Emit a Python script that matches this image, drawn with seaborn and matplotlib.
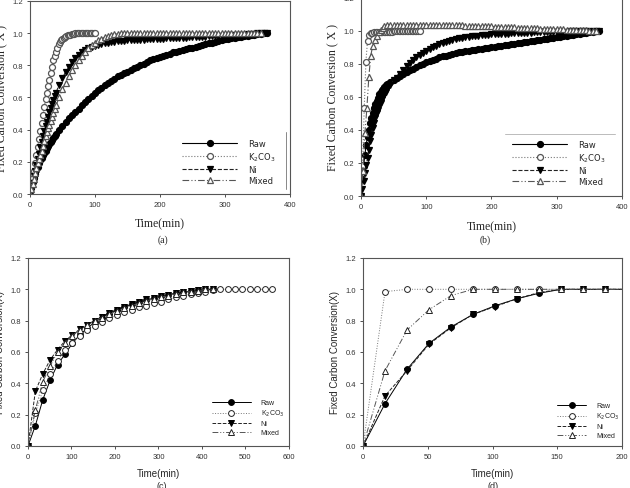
import numpy as np
import seaborn as sns
import matplotlib.pyplot as plt

sns.set_style("ticks")
plt.rcParams['font.family'] = ['Liberation Sans', 'DejaVu Sans']

labels = ["Raw", "K$_2$CO$_3$", "Ni", "Mixed"]

# ---------------- panel (a) ----------------
# sampling: every 2 min for the first 40 min, then every 5 min
a_t = np.concatenate([np.arange(0, 40, 2), np.arange(40, 366, 5)])
a_t_mix = np.concatenate([np.arange(0, 40, 2), np.arange(40, 356, 5)])
a_t_k = np.arange(0, 101, 2)

a_raw = [0.00, 0.04, 0.075, 0.10, 0.125, 0.15, 0.17, 0.19, 0.21, 0.225,
         0.24, 0.255, 0.27, 0.285, 0.30, 0.31, 0.32, 0.335, 0.345, 0.36,
         0.37, 0.40, 0.42, 0.45, 0.47, 0.49, 0.51, 0.53, 0.55, 0.57,
         0.59, 0.61, 0.63, 0.645, 0.66, 0.675, 0.69, 0.70, 0.715, 0.73,
         0.74, 0.75, 0.76, 0.77, 0.78, 0.79, 0.80, 0.81, 0.82, 0.83,
         0.84, 0.845, 0.85, 0.86, 0.865, 0.87, 0.88, 0.885, 0.89, 0.895,
         0.90, 0.905, 0.91, 0.915, 0.92, 0.925, 0.93, 0.935, 0.94, 0.945,
         0.95, 0.955, 0.96, 0.963, 0.966, 0.97, 0.973, 0.976, 0.98, 0.983,
         0.986, 0.99, 0.993, 0.996, 0.998, 1.00]
a_ni = [0.00, 0.035, 0.07, 0.11, 0.145, 0.18, 0.215, 0.25, 0.29, 0.325,
        0.36, 0.39, 0.42, 0.45, 0.48, 0.51, 0.535, 0.56, 0.585, 0.61,
        0.63, 0.68, 0.72, 0.76, 0.79, 0.82, 0.845, 0.865, 0.88, 0.895,
        0.905, 0.915, 0.92, 0.925, 0.93, 0.935, 0.94, 0.943, 0.946, 0.948,
        0.95, 0.952, 0.954, 0.955, 0.956, 0.957, 0.958, 0.959, 0.96, 0.961,
        0.962, 0.963, 0.964, 0.965, 0.966, 0.967, 0.968, 0.969, 0.97, 0.971,
        0.972, 0.973, 0.974, 0.975, 0.976, 0.977, 0.978, 0.979, 0.98, 0.981,
        0.982, 0.983, 0.984, 0.985, 0.986, 0.987, 0.988, 0.989, 0.99, 0.991,
        0.993, 0.995, 0.997, 0.998, 0.999, 1.00]
a_k2co3 = [0.00, 0.05, 0.10, 0.14, 0.19, 0.24, 0.29, 0.34, 0.39, 0.44,
           0.49, 0.54, 0.59, 0.63, 0.67, 0.71, 0.75, 0.79, 0.83, 0.86,
           0.885, 0.91, 0.93, 0.945, 0.955, 0.965, 0.97, 0.975, 0.98, 0.985,
           0.988, 0.99, 0.992, 0.994, 0.996, 0.997, 0.998, 0.999, 1.00, 1.00,
           1.00, 1.00, 1.00, 1.00, 1.00, 1.00, 1.00, 1.00, 1.00, 1.00,
           1.00]
a_mixed = [0.00, 0.03, 0.065, 0.095, 0.13, 0.16, 0.19, 0.22, 0.245, 0.27,
           0.30, 0.33, 0.36, 0.385, 0.41, 0.43, 0.455, 0.48, 0.505, 0.53,
           0.55, 0.60, 0.65, 0.69, 0.73, 0.77, 0.80, 0.83, 0.86, 0.885,
           0.905, 0.925, 0.94, 0.955, 0.965, 0.975, 0.982, 0.988, 0.992, 0.995,
           0.997, 0.999, 1.00, 1.00, 1.00, 1.00, 1.00, 1.00, 1.00, 1.00,
           1.00, 1.00, 1.00, 1.00, 1.00, 1.00, 1.00, 1.00, 1.00, 1.00,
           1.00, 1.00, 1.00, 1.00, 1.00, 1.00, 1.00, 1.00, 1.00, 1.00,
           1.00, 1.00, 1.00, 1.00, 1.00, 1.00, 1.00, 1.00, 1.00, 1.00,
           1.00, 1.00, 1.00, 1.00]

# ---------------- panel (b) ----------------
b_t = np.concatenate([np.arange(0, 40, 2), np.arange(40, 366, 5)])
b_t_k = np.arange(0, 91, 2.5)
b_t_mix = np.concatenate([np.arange(0, 37, 3), np.arange(40, 361, 5)])

b_raw = [0.00, 0.10, 0.18, 0.25, 0.31, 0.36, 0.40, 0.44, 0.475, 0.505,
         0.535, 0.555, 0.575, 0.595, 0.615, 0.63, 0.64, 0.65, 0.66, 0.67,
         0.675, 0.69, 0.705, 0.715, 0.725, 0.74, 0.75, 0.76, 0.77, 0.78,
         0.79, 0.80, 0.81, 0.82, 0.825, 0.83, 0.84, 0.845, 0.85, 0.855,
         0.86, 0.865, 0.87, 0.873, 0.876, 0.879, 0.882, 0.885, 0.888, 0.891,
         0.894, 0.897, 0.90, 0.903, 0.906, 0.909, 0.912, 0.915, 0.918, 0.921,
         0.924, 0.927, 0.93, 0.933, 0.936, 0.939, 0.942, 0.945, 0.948, 0.951,
         0.954, 0.957, 0.96, 0.963, 0.966, 0.969, 0.972, 0.975, 0.978, 0.981,
         0.984, 0.987, 0.99, 0.993, 0.997, 1.00]
b_ni = [0.00, 0.04, 0.09, 0.14, 0.19, 0.23, 0.28, 0.33, 0.37, 0.41,
        0.44, 0.47, 0.50, 0.52, 0.545, 0.565, 0.585, 0.60, 0.615, 0.63,
        0.645, 0.67, 0.70, 0.715, 0.74, 0.765, 0.785, 0.805, 0.825, 0.84,
        0.855, 0.865, 0.875, 0.89, 0.90, 0.91, 0.92, 0.928, 0.935, 0.94,
        0.945, 0.95, 0.955, 0.958, 0.96, 0.963, 0.966, 0.968, 0.97, 0.972,
        0.974, 0.976, 0.978, 0.979, 0.98, 0.981, 0.982, 0.983, 0.984, 0.985,
        0.986, 0.987, 0.988, 0.988, 0.989, 0.99, 0.99, 0.991, 0.992, 0.992,
        0.993, 0.993, 0.994, 0.994, 0.995, 0.995, 0.996, 0.996, 0.997, 0.997,
        0.998, 0.998, 0.999, 0.999, 1.00, 1.00]
b_k2co3 = [0.00, 0.19, 0.535, 0.81, 0.94, 0.975, 0.985, 0.988, 0.99, 0.99,
           0.991, 0.992, 0.992, 0.993, 0.993, 0.994, 0.994, 0.995, 0.995, 0.995,
           0.996, 0.996, 0.996, 0.997, 0.997, 0.997, 0.998, 0.998, 0.998, 0.998,
           0.999, 0.999, 0.999, 0.999, 1.00, 1.00, 1.00]
b_mixed = [0.00, 0.15, 0.38, 0.53, 0.72, 0.85, 0.91, 0.945, 0.97, 0.99,
           1.005, 1.018, 1.027,
           1.033, 1.035, 1.035, 1.035, 1.035, 1.035, 1.035, 1.035, 1.035, 1.035,
           1.035, 1.035, 1.035, 1.035, 1.035, 1.035, 1.035, 1.035, 1.035,
           1.034, 1.034, 1.033, 1.033, 1.032, 1.031, 1.031, 1.03, 1.029, 1.029,
           1.028, 1.027, 1.026, 1.026, 1.025, 1.024, 1.023, 1.022, 1.022, 1.021,
           1.02, 1.019, 1.018, 1.018, 1.017, 1.016, 1.015, 1.014, 1.013, 1.013,
           1.012, 1.011, 1.01, 1.009, 1.008, 1.008, 1.007, 1.006, 1.005, 1.004,
           1.003, 1.002, 1.002, 1.001, 1.00, 1.00]

# ---------------- panel (c) ----------------
c_t = [0, 17, 34, 51, 68, 85, 102, 119, 136, 153, 170, 187, 204, 221, 238,
       255, 272, 289, 306, 323, 340, 357, 374, 391, 408, 425, 442, 459, 476,
       493, 510, 527, 544, 561]
c_raw = [0.00, 0.13, 0.295, 0.42, 0.52, 0.585, 0.655, 0.71, 0.75, 0.79,
         0.82, 0.845, 0.87, 0.885, 0.905, 0.92, 0.93, 0.945, 0.955, 0.965,
         0.975, 0.98, 0.99, 0.995, 1.00, 1.00]
c_k2co3 = [0.00, 0.21, 0.355, 0.46, 0.545, 0.61, 0.66, 0.705, 0.74, 0.765,
           0.79, 0.815, 0.835, 0.855, 0.87, 0.885, 0.895, 0.91, 0.92, 0.935,
           0.95, 0.96, 0.97, 0.975, 0.985, 0.995, 1.00, 1.00, 1.00, 1.00,
           1.00, 1.00, 1.00, 1.00]
c_ni = [0.00, 0.35, 0.46, 0.55, 0.615, 0.67, 0.71, 0.745, 0.775, 0.80,
        0.825, 0.85, 0.87, 0.89, 0.905, 0.92, 0.935, 0.945, 0.955, 0.965,
        0.975, 0.98, 0.99, 0.995, 1.00, 1.00]
c_mixed = [0.00, 0.23, 0.41, 0.51, 0.60, 0.66, 0.705, 0.74, 0.77, 0.795,
           0.82, 0.84, 0.86, 0.88, 0.895, 0.91, 0.925, 0.94, 0.95, 0.96,
           0.97, 0.98, 0.985, 0.99, 1.00, 1.00]

# ---------------- panel (d) ----------------
d_t = [0, 17, 34, 51, 68, 85, 102, 119, 136, 153, 170, 187, 204]
d_raw = [0.00, 0.27, 0.49, 0.655, 0.76, 0.84, 0.895, 0.94, 0.975, 1.00, 1.00, 1.00, 1.00]
d_k2co3 = [0.00, 0.985, 1.00, 1.00, 1.00, 1.00, 1.00, 1.00, 1.00, 1.00, 1.00, 1.00, 1.00]
d_ni = [0.00, 0.32, 0.48, 0.65, 0.755, 0.84, 0.89, 0.94, 0.98, 1.00, 1.00, 1.00, 1.00]
d_mixed = [0.00, 0.48, 0.74, 0.87, 0.96, 1.00, 1.00, 1.00, 1.00, 1.00, 1.00, 1.00, 1.00]

DASHDOT2 = (0, (6, 2, 1, 2, 1, 2))


def styles(open_edge):
    return [
        dict(color='black', linestyle='-', marker='o', markerfacecolor='black',
             markeredgecolor='black'),
        dict(color='#777777', linestyle=':', marker='o', markerfacecolor='white',
             markeredgecolor=open_edge),
        dict(color='#222222', linestyle='--', marker='v', markerfacecolor='black',
             markeredgecolor='black'),
        dict(color='#555555', linestyle=DASHDOT2, marker='^', markerfacecolor='white',
             markeredgecolor=open_edge),
    ]


def draw_panel(ax, series, open_edge, ms, lw, mew):
    for (t, y), lab, st in zip(series, labels, styles(open_edge)):
        sns.lineplot(x=t, y=y, ax=ax, sort=False, estimator=None, errorbar=None,
                     label=lab, markersize=ms, linewidth=lw, markeredgewidth=mew,
                     **st)


def dress(ax, xmax, xstep, ylab, serif):
    ax.set_xlim(0, xmax)
    ax.set_ylim(0, 1.2)
    ax.set_xticks(np.arange(0, xmax + 1, xstep))
    ax.set_yticks(np.arange(0, 1.21, 0.2))
    ax.set_yticklabels([f"{v:.1f}" for v in np.arange(0, 1.21, 0.2)])
    ax.tick_params(labelsize=5.5, length=2.5, width=0.6, direction='out',
                   pad=2.5, colors='#333333')
    for sp in ax.spines.values():
        sp.set_visible(True)
        sp.set_linewidth(0.8)
        sp.set_color('#555555')
    if serif:
        fnt = dict(family=['Liberation Serif', 'DejaVu Serif'], size=8.5)
    else:
        fnt = dict(family=['Liberation Sans', 'DejaVu Sans'], size=7)
    ax.set_xlabel("Time(min)", **fnt)
    ax.set_ylabel(ylab, **fnt)


fig = plt.figure(figsize=(6.3, 4.89), dpi=100)
ax_a = fig.add_axes([0.0476, 0.6012, 0.4127, 0.3951])
ax_b = fig.add_axes([0.5730, 0.5971, 0.4143, 0.4055])
ax_c = fig.add_axes([0.0444, 0.0859, 0.4143, 0.3845])
ax_d = fig.add_axes([0.5762, 0.0859, 0.4111, 0.3845])

draw_panel(ax_a, [(a_t, a_raw), (a_t_k, a_k2co3), (a_t, a_ni), (a_t_mix, a_mixed)],
           '#555555', 4.3, 0.8, 0.9)
draw_panel(ax_b, [(b_t, b_raw), (b_t_k, b_k2co3), (b_t, b_ni), (b_t_mix, b_mixed)],
           '#555555', 4.3, 0.8, 0.9)
draw_panel(ax_c, [(c_t[:len(c_raw)], c_raw), (c_t, c_k2co3), (c_t[:len(c_ni)], c_ni),
                  (c_t[:len(c_mixed)], c_mixed)], '#222222', 4.2, 0.7, 0.7)
draw_panel(ax_d, [(d_t, d_raw), (d_t, d_k2co3), (d_t, d_ni), (d_t, d_mixed)],
           '#222222', 4.2, 0.7, 0.7)

dress(ax_a, 400, 100, "Fixed Carbon Conversion ( X )", True)
dress(ax_b, 400, 100, "Fixed Carbon Conversion ( X )", True)
dress(ax_c, 600, 100, "Fixed Carbon Conversion(X)", False)
dress(ax_d, 200, 50, "Fixed Carbon Conversion(X)", False)

ax_a.xaxis.set_label_coords(0.5, -0.122)
ax_b.xaxis.set_label_coords(0.5, -0.124)
ax_c.xaxis.set_label_coords(0.5, -0.117)
ax_d.xaxis.set_label_coords(0.5, -0.117)
for ax in (ax_a, ax_b):
    ax.yaxis.set_label_coords(-0.086, 0.5)
for ax in (ax_c, ax_d):
    ax.yaxis.set_label_coords(-0.089, 0.5)

leg_big = dict(frameon=False, loc='upper left', borderaxespad=0, borderpad=0,
               handlelength=6.6, handletextpad=1.3, labelspacing=0.25,
               prop=dict(family=['DejaVu Sans'], size=6))
ax_a.legend(bbox_to_anchor=(0.585, 0.285), **leg_big)
ax_b.legend(bbox_to_anchor=(0.579, 0.282), **leg_big)

leg_small = dict(frameon=False, loc='upper left', borderaxespad=0, borderpad=0,
                 handletextpad=1.4, labelspacing=0.3,
                 prop=dict(family=['Liberation Sans', 'DejaVu Sans'], size=5))
ax_c.legend(bbox_to_anchor=(0.705, 0.25), handlelength=5.6, **leg_small)
ax_d.legend(bbox_to_anchor=(0.749, 0.234), handlelength=4.2, **leg_small)

# stray frame fragments near the legends of (a) and (b)
ax_a.axvline(394, ymin=0.025, ymax=0.32, color='#888888', linewidth=0.7)
ax_b.axhline(0.376, xmin=0.55, xmax=0.973, color='#bbbbbb', linewidth=0.7)

serif = ['Liberation Serif', 'DejaVu Serif']
fig.text(0.259, 0.509, "(a)", ha='center', va='center', family=serif, size=7)
fig.text(0.770, 0.509, "(b)", ha='center', va='center', family=serif, size=7)
fig.text(0.257, 0.006, "(c)", ha='center', va='center', size=6.5)
fig.text(0.783, 0.006, "(d)", ha='center', va='center', size=6.5)

fig.savefig("out.png", dpi=100)
